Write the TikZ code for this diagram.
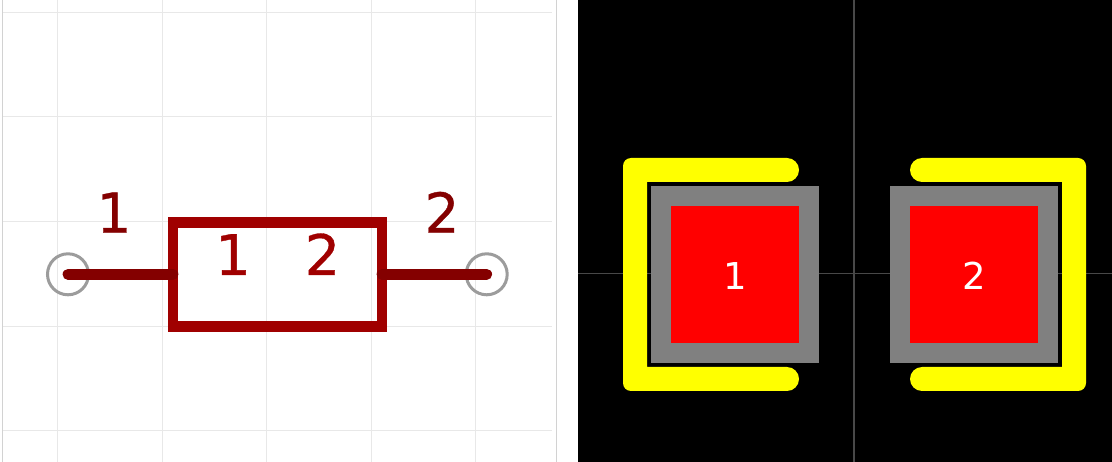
\documentclass[tikz,border=0pt]{standalone}
\usepackage{fontspec}
\setmainfont{DejaVu Sans}
\newfontfamily\heavydigits[FakeBold=0.6]{DejaVu Sans}
\definecolor{gridc}{HTML}{E8E8E8}
\definecolor{framec}{HTML}{D2D2D2}
\definecolor{bodyc}{HTML}{A00000}
\definecolor{pinc}{HTML}{840000}
\definecolor{termc}{HTML}{9C9C9C}
\definecolor{crossc}{HTML}{484848}
\definecolor{padc}{HTML}{808080}
\definecolor{silkc}{HTML}{FFFF00}
\definecolor{copperc}{HTML}{FF0000}
\tikzset{
  gridline/.style={draw=gridc,line width=1.1pt},
  frameline/.style={draw=framec,line width=1.3pt},
  crossline/.style={draw=crossc,line width=1.3pt},
  body/.style={draw=bodyc,line width=10.6pt,miter limit=10},
  pinline/.style={draw=pinc,line width=10.8pt,line cap=round},
  terminal/.style={circle,draw=termc,line width=3pt,minimum size=41pt,inner sep=0pt,outer sep=0pt},
  silk/.style={fill=silkc,draw=none},
  pinlabel/.style={text=pinc,font=\heavydigits\fontsize{55}{55}\selectfont,anchor=base,inner sep=0pt},
  reflabel/.style={text=bodyc,font=\heavydigits\fontsize{56}{56}\selectfont,anchor=base,inner sep=0pt},
  padlabel/.style={text=white,font=\fontsize{37}{37}\selectfont,anchor=base,inner sep=0pt},
  padouter/.style={fill=padc,draw=none,inner sep=0pt,minimum width=168pt,minimum height=177pt},
  padinner/.style={fill=copperc,draw=none,inner sep=0pt,minimum width=128pt,minimum height=137pt},
}
\begin{document}
\begin{tikzpicture}[x=1pt,y=-1pt]
\useasboundingbox (0,0) rectangle (1112,462);
\fill[white] (0,0) rectangle (1112,462);
% schematic grid
\foreach \gx in {57.5,162.5,266.5,371.5,475.5}
  \draw[gridline] (\gx,0) -- (\gx,462);
\foreach \gy in {12.5,116.5,221.5,326.5,430.5}
  \draw[gridline] (3,\gy) -- (552,\gy);
\draw[frameline] (2.5,0) -- (2.5,462);
\draw[frameline] (556.5,0) -- (556.5,462);
% schematic symbol
\node[terminal] (t1) at (68,274.3) {};
\node[terminal] (t2) at (486.7,274.3) {};
\coordinate (r1) at (173,274.3);
\coordinate (r2) at (382,274.3);
\draw[body] (173,222.5) rectangle (382,326.5);
\draw[pinline] (t1.center) -- (r1);
\draw[pinline] (t2.center) -- (r2);
\node[pinlabel] (n1) at (114,232.7) {1};
\node[pinlabel] (n2) at (442,232.7) {2};
\node[reflabel] (l1) at (233,275) {1};
\node[reflabel] (l2) at (322.5,275) {2};
% footprint
\fill[black] (578,0) rectangle (1112,462);
\draw[crossline] (578,273.5) -- (1112,273.5);
\draw[crossline] (854,0) -- (854,462);
% silkscreen brackets
\fill[silk] (787,158) [rounded corners=8pt] -- (623,158) -- (623,391) [sharp corners] -- (787,391)
  arc[start angle=-90,end angle=90,radius=12pt] -- (647,367) -- (647,182) -- (787,182)
  arc[start angle=-90,end angle=90,radius=12pt] -- cycle;
\fill[silk] (922,158) [rounded corners=8pt] -- (1086,158) -- (1086,391) [sharp corners] -- (922,391)
  arc[start angle=-90,end angle=-270,radius=12pt] -- (1062,367) -- (1062,182) -- (922,182)
  arc[start angle=-90,end angle=-270,radius=12pt] -- cycle;
\node[padouter] (p1) at (735,274.5) {};
\node[padinner] (q1) at (735,274.5) {};
\node[padouter] (p2) at (974,274.5) {};
\node[padinner] (q2) at (974,274.5) {};
\node[padlabel] (d1) at (735,289.3) {1};
\node[padlabel] (d2) at (974,289.3) {2};
\end{tikzpicture}
\end{document}
